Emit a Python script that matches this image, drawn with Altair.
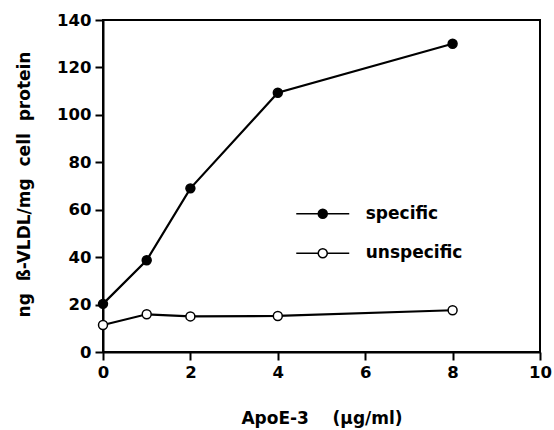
import altair as alt
import pandas as pd

conc = [0, 1, 2, 4, 8]
specific = [20.3, 38.7, 69.0, 109.3, 130.0]
unspecific = [11.4, 15.9, 15.0, 15.2, 17.6]
series_names = ["specific", "unspecific"]
x_ticks = [0, 2, 4, 6, 8, 10]
y_ticks = [0, 20, 40, 60, 80, 100, 120, 140]
NB = "\u00a0"
x_title = "ApoE-3" + NB * 4 + "(µg/ml)"
y_title = "ng" + NB * 2 + "ß-VLDL/mg" + NB * 2 + "cell" + NB * 2 + "protein"

rows = []
for c, v in zip(conc, specific):
    rows.append({"conc": c, "value": v, "series": series_names[0]})
for c, v in zip(conc, unspecific):
    rows.append({"conc": c, "value": v, "series": series_names[1]})
df = pd.DataFrame(rows)

FONT = "DejaVu Sans"

x_enc = alt.X(
    "conc:Q",
    scale=alt.Scale(domain=[0, 10], nice=False, zero=False),
    axis=alt.Axis(
        values=x_ticks,
        title=x_title,
        titleX=218.5,
        titleY=66,
        titleBaseline="middle",
        titleAlign="center",
        format="d",
        labelFlush=False,
    ),
)
y_enc = alt.Y(
    "value:Q",
    scale=alt.Scale(domain=[0, 140], nice=False),
    axis=alt.Axis(
        values=y_ticks,
        title=y_title,
        titleX=-79,
        titleY=164,
        titleAngle=270,
        titleBaseline="middle",
        titleAlign="center",
        format="d",
        labelFlush=False,
    ),
)

lines = alt.Chart(df).mark_line(color="black", strokeWidth=2.2).encode(
    x=x_enc, y=y_enc, detail="series:N"
)

symbol_path = (
    "M-2,0L-0.34,0M0.34,0L2,0"
    "M0.34,0A0.34,0.34,0,1,1,-0.34,0A0.34,0.34,0,1,1,0.34,0Z"
)

points = alt.Chart(df).mark_point(
    filled=True, shape="circle", size=80, stroke="black", strokeWidth=1.5, opacity=1
).encode(
    x=x_enc,
    y=y_enc,
    fill=alt.Fill(
        "series:N",
        scale=alt.Scale(domain=series_names, range=["black", "white"]),
        legend=alt.Legend(
            title=None,
            orient="none",
            legendX=205.75,
            legendY=179.75,
            symbolType=symbol_path,
            symbolSize=702,
            symbolStrokeColor="black",
            symbolStrokeWidth=1.5,
            symbolOpacity=1,
            labelOffset=29,
            rowPadding=17.5,
            padding=0,
            labelFont=FONT,
            labelFontSize=17,
            labelFontWeight="bold",
            labelColor="black",
        ),
    ),
)

chart = (
    alt.layer(lines, points)
    .properties(
        width=437,
        height=332,
        autosize=alt.AutoSizeParams(type="none"),
        padding={"left": 103, "top": 20, "right": 14, "bottom": 78},
        background="white",
    )
    .configure_view(stroke="black", strokeWidth=2)
    .configure_axis(
        grid=False,
        domainColor="black",
        domainWidth=2,
        tickColor="black",
        tickWidth=2,
        tickSize=8,
        labelPadding=4,
        labelFont=FONT,
        labelFontSize=16.5,
        labelFontWeight="bold",
        labelColor="black",
        titleFont=FONT,
        titleFontSize=17,
        titleFontWeight="bold",
        titleColor="black",
    )
)

chart.save("out.html", embed_options={"renderer": "svg", "actions": False})
